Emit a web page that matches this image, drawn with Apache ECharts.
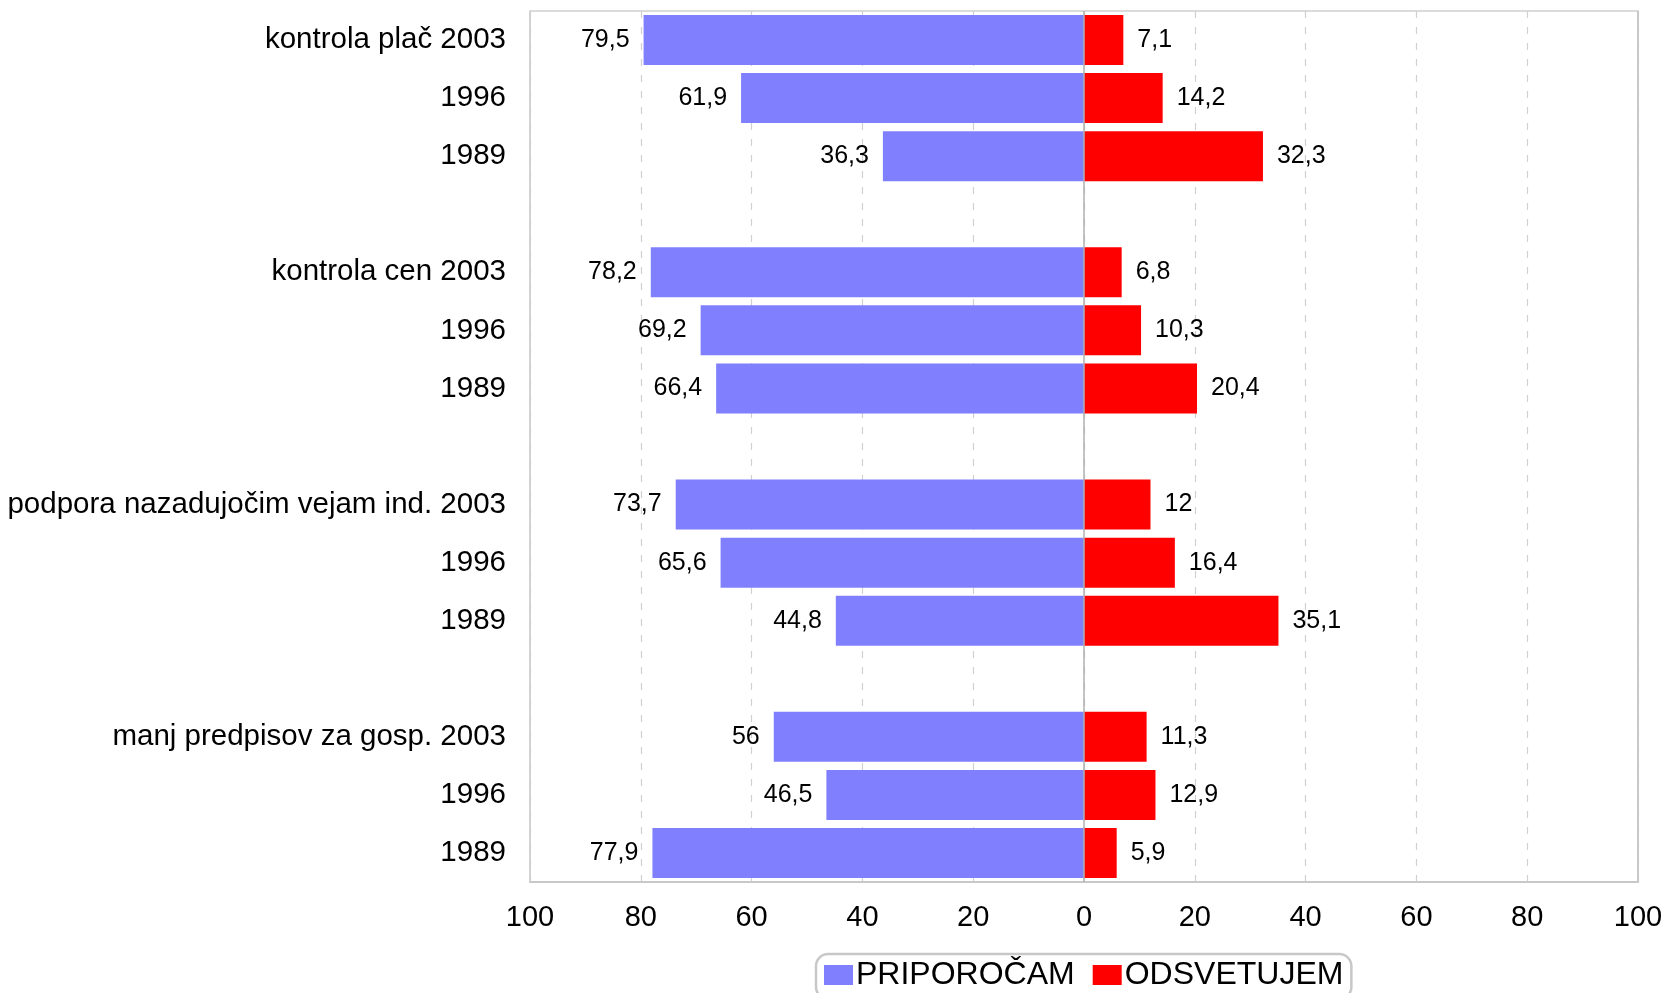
<!DOCTYPE html>
<html>
<head>
<meta charset="utf-8">
<script src="https://cdn.jsdelivr.net/npm/echarts@6/dist/echarts.min.js"></script>
<style>
html,body{margin:0;padding:0;background:#fff;}
#main{width:1666px;height:993px;}
</style>
</head>
<body>
<div id="main"></div>
<script>
var categories = ['kontrola plač 2003','1996','1989','',
                  'kontrola cen 2003','1996','1989','',
                  'podpora nazadujočim vejam ind. 2003','1996','1989','',
                  'manj predpisov za gosp. 2003','1996','1989'];
var priporocam = [79.5, 61.9, 36.3, null, 78.2, 69.2, 66.4, null, 73.7, 65.6, 44.8, null, 56, 46.5, 77.9];
var odsvetujem = [7.1, 14.2, 32.3, null, 6.8, 10.3, 20.4, null, 12, 16.4, 35.1, null, 11.3, 12.9, 5.9];
var seriesNames = ['PRIPOROČAM', 'ODSVETUJEM'];
var xTicks = [-100, -80, -60, -40, -20, 0, 20, 40, 60, 80, 100];

function fmt(v){ return String(Math.abs(v)).replace('.', ','); }

var chart = echarts.init(document.getElementById('main'));
var font = "'Liberation Sans', Arial, sans-serif";
chart.setOption({
  animation: false,
  textStyle: {fontFamily: font},
  grid: {left: 530, right: 28, top: 11, bottom: 111, show: true, borderColor: '#d0d0d0', borderWidth: 1.5, containLabel: false},
  legend: {
    data: seriesNames,
    top: 954, left: 816,
    itemWidth: 29, itemHeight: 20, itemGap: 18,
    icon: 'rect',
    padding: [5, 8, 8, 8],
    borderColor: '#c8c8c8', borderWidth: 2.5, borderRadius: 12,
    textStyle: {fontSize: 32, color: '#000', fontFamily: font, padding: [0,0,0,-2]}
  },
  xAxis: {
    type: 'value', min: xTicks[0], max: xTicks[xTicks.length-1], interval: 20,
    axisLine: {show: true, onZero: false, lineStyle: {color: '#c8c8c8', width: 2}},
    axisTick: {show: false},
    splitLine: {show: true, lineStyle: {color: '#d0d0d0', type: [7, 9], width: 1.2}},
    axisLabel: {formatter: function(v){ return Math.abs(v); }, fontSize: 29, color: '#000', margin: 21}
  },
  yAxis: {
    type: 'category', inverse: true, data: categories,
    axisLine: {show: false, onZero: false},
    axisTick: {show: false},
    axisLabel: {fontSize: 29.5, color: '#000', margin: 24, interval: 0}
  },
  series: [
    {
      name: seriesNames[0], type: 'bar', stack: 'a', barWidth: 50,
      itemStyle: {color: '#8080FF'},
      data: priporocam.map(function(v){ return v === null ? '-' : -v; }),
      label: {show: true, position: 'left', distance: 14, fontSize: 25, color: '#000', formatter: function(p){ return fmt(p.value); }},
      markLine: {
        silent: true, symbol: 'none', label: {show: false},
        data: [
          {xAxis: 0, lineStyle: {color: '#b0b0b0', type: 'solid', width: 1.5}},
          {xAxis: -100, lineStyle: {color: '#d0d0d0', type: 'solid', width: 1.5}},
          {xAxis: 100, lineStyle: {color: '#c8c8c8', type: 'solid', width: 2}}
        ]
      }
    },
    {
      name: seriesNames[1], type: 'bar', stack: 'a', barWidth: 50,
      itemStyle: {color: '#FF0000'},
      data: odsvetujem.map(function(v){ return v === null ? '-' : v; }),
      label: {show: true, position: 'right', distance: 14, fontSize: 25, color: '#000', formatter: function(p){ return fmt(p.value); }}
    }
  ]
});
</script>
</body>
</html>
